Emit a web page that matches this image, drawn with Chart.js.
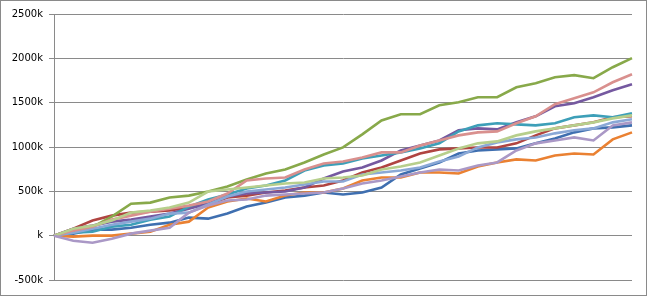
<!DOCTYPE html>
<html>
<head>
<meta charset="utf-8">
<script src="https://cdn.jsdelivr.net/npm/chart.js@4"></script>
<style>
  html, body { margin: 0; padding: 0; background: #fff; }
  #box { width: 645px; height: 294px; border: 1px solid #8a8a8a; }
  canvas { display: block; }
</style>
</head>
<body>
<div id="box"><canvas id="chart" width="645" height="294"></canvas></div>
<script>
// sample positions along the x axis (no labels shown)
const steps = [0,1,2,3,4,5,6,7,8,9,10,11,12,13,14,15,16,17,18,19,20,21,22,23,24,25,26,27,28,29,30];

// values in k
const blue = [0,23,68,68,90,124,147,204,192,249,328,373,430,452,486,464,486,543,690,758,826,927,961,973,984,1041,1097,1165,1210,1221,1244];
const red = [0,79,170,226,260,271,283,317,351,430,452,486,509,543,566,622,713,769,848,927,973,984,995,995,1041,1131,1210,1244,1278,1335,1346];
const green = [0,57,100,215,360,373,430,452,498,554,633,701,746,826,916,995,1142,1300,1369,1369,1470,1504,1561,1561,1674,1719,1787,1810,1776,1900,2002];
const purple = [0,79,113,158,181,215,249,305,362,441,475,486,498,543,645,724,769,848,961,1018,1074,1188,1210,1199,1278,1346,1459,1493,1561,1640,1708];
const teal = [0,34,45,102,124,181,215,328,407,464,532,566,622,735,792,814,871,905,939,984,1041,1176,1244,1267,1255,1244,1267,1335,1357,1335,1380];
const orange = [0,-11,0,0,23,45,124,158,317,385,419,385,452,486,486,532,622,656,656,713,713,701,780,826,860,848,905,927,916,1086,1165];
const lightBlue = [0,34,79,124,158,192,249,260,351,441,498,520,543,577,611,611,690,713,735,769,837,894,995,1052,1086,1108,1154,1188,1210,1278,1312];
const pink = [0,57,102,181,226,271,305,339,385,475,622,645,656,746,814,837,882,939,939,1018,1074,1131,1165,1176,1267,1346,1482,1549,1617,1730,1821];
const lightGreen = [0,79,113,170,260,283,317,373,498,520,543,566,588,599,645,656,679,746,780,826,905,984,1041,1063,1131,1176,1210,1244,1278,1323,1357];
const lightPurple = [0,-57,-79,-34,23,57,90,260,339,396,407,452,464,475,486,532,588,622,667,713,746,735,792,826,961,1041,1074,1108,1074,1244,1278];

const yTicks = [-500, 0, 500, 1000, 1500, 2000, 2500];

const series = [
  [blue, "#3f6fb0"],
  [red, "#b04441"],
  [green, "#88a94a"],
  [purple, "#7559a0"],
  [teal, "#3d9fb8"],
  [orange, "#ea8132"],
  [lightBlue, "#8aa8d6"],
  [pink, "#d9908e"],
  [lightGreen, "#b7cf8c"],
  [lightPurple, "#aa98c6"],
];

const ctx = document.querySelector("#chart").getContext("2d");

new Chart(ctx, {
  type: "line",
  data: {
    labels: steps,
    datasets: series.map(function (s, i) {
      return {
        data: s[0],
        borderColor: s[1],
        backgroundColor: s[1],
        borderWidth: 2.6,
        pointRadius: 0,
        tension: 0,
        fill: false,
        order: series.length - i,
      };
    }),
  },
  options: {
    responsive: false,
    animation: false,
    devicePixelRatio: 1,
    layout: { padding: { top: 13, right: 14, bottom: 15, left: 0 } },
    plugins: { legend: { display: false }, tooltip: { enabled: false } },
    scales: {
      x: { display: false },
      y: {
        min: yTicks[0],
        max: yTicks[yTicks.length - 1],
        afterFit: function (scale) { scale.width = 53; },
        afterBuildTicks: function (scale) {
          scale.ticks = yTicks.map(function (v) { return { value: v }; });
        },
        ticks: {
          padding: 6,
          color: "#000",
          font: { family: "DejaVu Sans", size: 10 },
          callback: function (v) { return v === 0 ? "k" : v + "k"; },
        },
        grid: { color: "#8a8a8a", lineWidth: 1, tickLength: 5 },
        border: { display: true, color: "#8a8a8a", width: 1 },
      },
    },
  },
});
</script>
</body>
</html>
